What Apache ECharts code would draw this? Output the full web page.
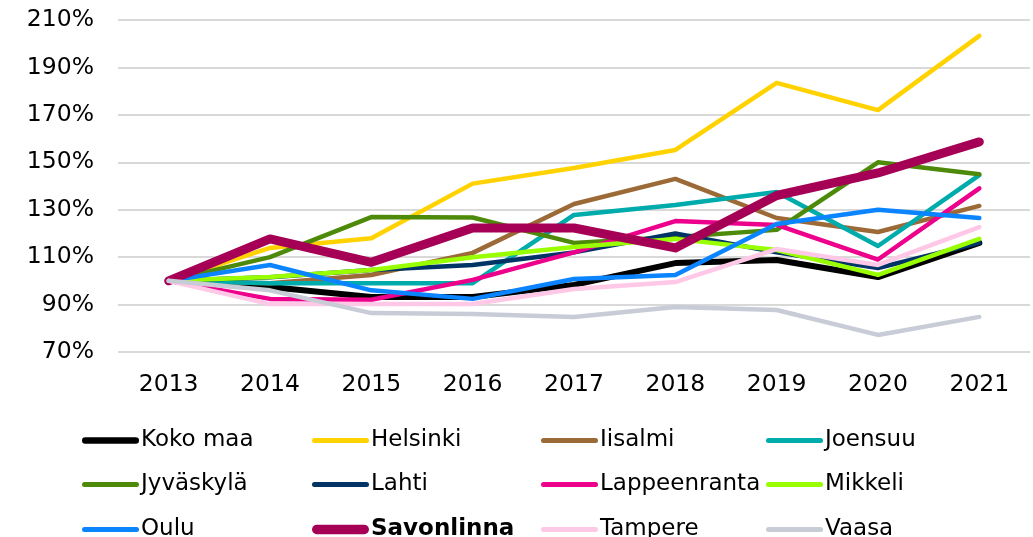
<!DOCTYPE html>
<html lang="fi">
<head>
    <meta charset="utf-8">
    <title>Indeksi 2013-2021</title>
    <style>
        html, body { margin: 0; padding: 0; background: #fff; }
        #chart { width: 1033px; height: 537px; }
    </style>
</head>
<body>
<div id="chart"></div>
<script src="https://cdn.jsdelivr.net/npm/echarts@6/dist/echarts.min.js"></script>
<script>
    // vuodet
    var years = ['2013', '2014', '2015', '2016', '2017', '2018', '2019', '2020', '2021'];

    // indeksi, 2013 = 100 %
    var kokoMaa      = [100, 97.4, 93.2, 93.2, 98.3, 107.5, 108.8, 101.6, 116];
    var helsinki     = [100, 113.9, 118, 141, 147.6, 155.2, 183.5, 172, 203.3];
    var iisalmi      = [100, 99, 102.5, 111.8, 132.4, 143, 126.5, 120.6, 131.6];
    var joensuu      = [100, 99, 99, 99, 127.8, 132, 137.5, 114.7, 144.6];
    var jyvaskyla    = [100, 110, 126.9, 126.7, 116, 118.5, 121.5, 150, 145];
    var lahti        = [100, 101.5, 104.6, 106.7, 112, 120, 112, 105.4, 116];
    var lappeenranta = [100, 92.4, 92, 100.4, 112, 125.2, 123.6, 109, 139];
    var mikkeli      = [100, 101.6, 104.6, 110, 114.3, 117.7, 113, 102.5, 117.7];
    var oulu         = [100, 106.7, 96, 92.4, 100.8, 102.5, 124, 130, 126.5];
    var savonlinna   = [100, 117.7, 107.8, 122.3, 122.3, 113.9, 136, 145.5, 158.6];
    var tampere      = [100, 90.2, 90.2, 90.2, 96.6, 99.5, 113.4, 106.7, 122.7];
    var vaasa        = [100, 96, 86.4, 86, 84.8, 89, 87.7, 77.2, 84.8];

    var names  = ['Koko maa', 'Helsinki', 'Iisalmi', 'Joensuu', 'Jyväskylä', 'Lahti',
                  'Lappeenranta', 'Mikkeli', 'Oulu', 'Savonlinna', 'Tampere', 'Vaasa'];
    var values = [kokoMaa, helsinki, iisalmi, joensuu, jyvaskyla, lahti,
                  lappeenranta, mikkeli, oulu, savonlinna, tampere, vaasa];
    var colors = ['#000000', '#FFD200', '#9B6A37', '#00ABAB', '#4E8A0A', '#003366',
                  '#EC008C', '#99FF00', '#0A84FF', '#A50055', '#FFC8E6', '#C8CCD6'];
    var widths = [6, 4.5, 4.5, 4.5, 4.5, 4.5, 4.5, 4.5, 4.5, 9, 4.5, 4.5];

    var font = 'DejaVu Sans';
    var chart = echarts.init(document.getElementById('chart'));

    var series = names.map(function (n, i) {
        return {
            name: n,
            type: 'line',
            data: values[i],
            symbol: 'none',
            color: colors[i],
            lineStyle: { color: colors[i], width: widths[i], cap: 'round', join: 'round' },
            emphasis: { disabled: true }
        };
    });

    // pyöreäpäinen viiva legendaan
    function capsule(w, h) {
        var r = h / 2;
        return 'path://M' + r + ',0 L' + (w - r) + ',0 A' + r + ',' + r + ' 0 0 1 ' + (w - r) + ',' + h +
            ' L' + r + ',' + h + ' A' + r + ',' + r + ' 0 0 1 ' + r + ',0 Z';
    }

    // legenda: 4 saraketta, 3 riviä, yksi legenda per nimi
    var colLeft = [77, 307, 536, 761];
    var rowTop = [424, 468, 513];
    var legends = names.map(function (n, i) {
        var w = widths[i] + 0.5;
        return {
            left: colLeft[i % 4],
            top: rowTop[Math.floor(i / 4)],
            itemWidth: 57,
            itemHeight: w,
            itemGap: 0,
            icon: capsule(57, w),
            selectedMode: false,
            data: [n],
            formatter: function (name) {
                return name === 'Savonlinna' ? '{b|' + name + '}' : name;
            },
            textStyle: {
                fontFamily: font, fontSize: 23, color: '#000', padding: [0, 0, 0, -3],
                rich: { b: { fontFamily: font, fontSize: 23, fontWeight: 'bold', color: '#000' } }
            }
        };
    });

    var option = {
        animation: false,
        backgroundColor: '#fff',
        grid: { left: 118, right: 3, top: 20, bottom: 185 },
        legend: legends,
        xAxis: {
            type: 'category',
            data: years,
            boundaryGap: true,
            axisLine: { show: false },
            axisTick: { show: false },
            axisLabel: { fontFamily: font, fontSize: 23.5, color: '#000', margin: 21 }
        },
        yAxis: {
            type: 'value',
            min: 70,
            max: 210,
            interval: 20,
            axisLine: { show: false },
            axisTick: { show: false },
            axisLabel: { fontFamily: font, fontSize: 23.5, color: '#000', margin: 24, formatter: '{value}%' },
            splitLine: { lineStyle: { color: '#D9D9D9', width: 2 } }
        },
        series: series
    };

    chart.setOption(option);
</script>
</body>
</html>
